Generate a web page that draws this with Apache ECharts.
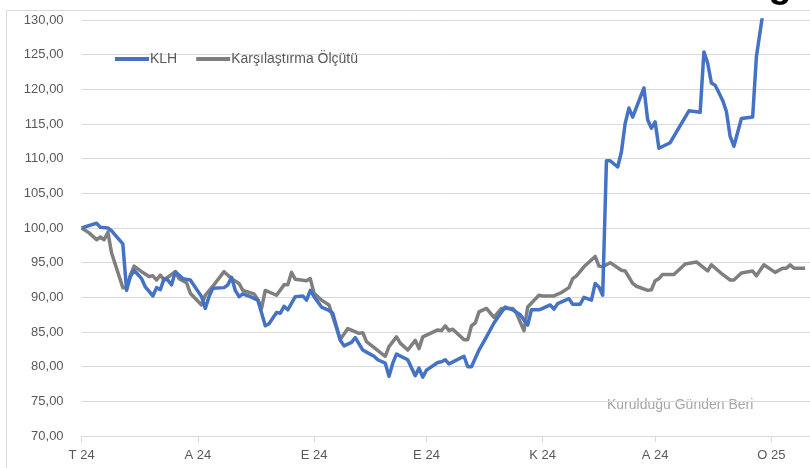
<!DOCTYPE html>
<html>
<head>
<meta charset="utf-8">
<script src="https://cdn.jsdelivr.net/npm/echarts@6.0.0/dist/echarts.min.js"></script>
<style>
  html, body { margin: 0; padding: 0; background: #fff; }
  #chart { width: 810px; height: 468px; }
</style>
</head>
<body>
<div id="chart"></div>
<script>
// days counted from 1 Jul 2024
const tickDays = [0, 31, 62, 92, 123, 153, 184]
const tickLabels = ['T 24', 'A 24', 'E 24', 'E 24', 'K 24', 'A 24', 'O 25']

const klhDays = [0, 4, 5, 7, 8, 11, 12, 13, 14, 16, 17, 19, 20, 21, 22, 23, 24, 25, 27, 29,
  32, 33, 34, 35, 38, 39, 40, 41, 42, 43, 45, 47, 49, 50, 52, 53, 54, 55, 57, 59,
  60, 61, 62, 64, 66, 67, 69, 70, 72, 73, 75, 76, 78, 79, 81, 82, 83, 84, 87, 89,
  90, 91, 92, 95, 96, 97, 98, 102, 103, 104, 106, 108, 110, 111, 113, 115, 117, 119, 120, 122,
  123, 125, 126, 127, 130, 131, 133, 134, 136, 137, 138, 139, 140, 141, 143, 144, 145, 146, 147, 150,
  151, 152, 153, 154, 157, 162, 165, 166, 167, 168, 169, 170, 171, 172, 173, 174, 176, 179, 180, 182]
const klhValues = [100.0, 100.7, 100.1, 100.0, 99.6, 97.7, 91.0, 93.0, 93.9, 92.7, 91.5, 90.2, 91.4, 91.1, 92.7, 92.5, 91.8, 93.7, 92.7, 92.5,
  90.1, 88.4, 90.1, 91.3, 91.4, 91.8, 92.9, 91.0, 90.1, 90.5, 90.1, 89.6, 85.9, 86.2, 87.8, 87.7, 88.7, 88.2, 90.1, 90.2,
  89.6, 91.0, 90.1, 88.6, 88.1, 87.7, 83.8, 83.0, 83.5, 84.2, 82.4, 82.1, 81.5, 81.0, 80.5, 78.6, 80.5, 81.8, 81.0, 78.7,
  79.8, 78.5, 79.5, 80.6, 80.7, 81.0, 80.4, 81.5, 80.0, 80.0, 82.4, 84.3, 86.3, 87.1, 88.6, 88.2, 87.5, 86.0, 88.2, 88.2,
  88.4, 88.9, 88.3, 89.1, 89.8, 89.0, 89.0, 90.0, 89.6, 92.0, 91.5, 90.3, 109.7, 109.7, 108.8, 111.0, 115.1, 117.3, 116.0, 120.2,
  115.6, 114.4, 115.3, 111.5, 112.3, 116.9, 116.7, 125.4, 123.8, 120.9, 120.6, 119.5, 118.4, 116.8, 113.2, 111.8, 115.8, 116.0, 124.7, 132.0]

const benchDays = [0, 2, 4, 5, 6, 7, 8, 11, 12, 13, 14, 16, 18, 19, 20, 21, 22, 25, 26, 28,
  29, 32, 33, 35, 38, 40, 42, 43, 46, 47, 48, 49, 52, 54, 55, 56, 57, 60, 61, 62,
  64, 66, 69, 71, 74, 75, 76, 81, 82, 84, 85, 87, 89, 90, 91, 93, 95, 96, 97, 98,
  99, 102, 103, 104, 105, 106, 108, 110, 112, 115, 116, 118, 119, 122, 123, 126, 128, 130, 131, 132,
  134, 137, 138, 139, 141, 144, 145, 147, 148, 151, 152, 153, 154, 155, 158, 159, 161, 164, 167, 168,
  171, 173, 174, 176, 179, 180, 182, 185, 187, 188, 189, 190, 193]
const benchValues = [100.0, 99.3, 98.3, 98.7, 98.3, 99.4, 96.4, 91.4, 91.4, 93.2, 94.5, 93.7, 93.0, 93.1, 92.5, 93.2, 92.5, 93.7, 92.7, 92.1,
  90.6, 88.9, 90.3, 91.6, 93.7, 92.7, 92.0, 91.0, 90.5, 89.7, 88.4, 91.0, 90.3, 91.8, 91.8, 93.6, 92.6, 92.4, 92.7, 90.6,
  89.6, 88.9, 83.9, 85.5, 84.8, 84.9, 83.6, 81.5, 82.9, 84.3, 83.4, 82.4, 83.8, 82.6, 84.3, 84.8, 85.3, 85.2, 85.9, 85.2,
  85.4, 83.9, 83.9, 85.9, 86.3, 87.9, 88.4, 87.1, 88.4, 88.4, 87.7, 85.2, 88.6, 90.3, 90.2, 90.2, 90.7, 91.4, 92.7, 93.1,
  94.4, 95.9, 94.5, 94.4, 95.0, 93.9, 93.8, 92.0, 91.6, 91.0, 91.1, 92.4, 92.7, 93.3, 93.3, 93.8, 94.8, 95.1, 93.8, 94.7,
  93.3, 92.5, 92.5, 93.5, 93.8, 93.1, 94.7, 93.6, 94.2, 94.2, 94.7, 94.2, 94.2]

const seriesNames = ['KLH', 'Karşılaştırma Ölçütü']
const seriesColors = ['#4472c4', '#7f7f7f']
const note = 'Kurulduğu Günden Beri'

const zip = (xs, ys) => xs.map((x, i) => [x, ys[i]])

const font = '"Liberation Sans", Arial, sans-serif'
const chart = echarts.init(document.getElementById('chart'))

chart.setOption({
  animation: false,
  textStyle: { fontFamily: font },
  grid: { left: 81.6, right: 0, top: 20, bottom: 32, containLabel: false },
  legend: {
    left: 110,
    top: 47,
    icon: 'rect',
    itemWidth: 34,
    itemHeight: 4,
    itemGap: 19,
    textStyle: { color: '#595959', fontSize: 14, fontFamily: font, padding: [0, 0, 0, -4] },
    data: seriesNames
  },
  xAxis: {
    type: 'value',
    min: 0,
    max: 194.3,
    splitLine: { show: false },
    axisLine: { show: true, lineStyle: { color: '#d9d9d9', width: 1 } },
    axisTick: { show: true, length: 6, customValues: tickDays, lineStyle: { color: '#d9d9d9' } },
    axisLabel: {
      customValues: tickDays,
      margin: 13,
      color: '#595959',
      fontSize: 13,
      formatter: v => tickLabels[tickDays.indexOf(v)]
    }
  },
  yAxis: {
    type: 'value',
    min: 70,
    max: 130,
    interval: 5,
    axisLine: { show: false },
    axisTick: { show: false },
    splitLine: { lineStyle: { color: '#d9d9d9', width: 1 } },
    axisLabel: {
      margin: 18,
      color: '#595959',
      fontSize: 13,
      formatter: v => v.toFixed(2).replace('.', ',')
    }
  },
  graphic: [
    {
      type: 'rect',
      shape: { x: 6.5, y: 10.5, width: 900, height: 600 },
      style: { fill: 'none', stroke: '#d9d9d9', lineWidth: 1 },
      silent: true
    },
    {
      type: 'text',
      left: 607,
      top: 398,
      style: { text: note, fill: '#a6a6a6', fontSize: 14, fontFamily: font }
    },
    {
      type: 'text',
      x: 780,
      y: 6,
      style: { text: 'g', fill: '#000', fontSize: 38, fontWeight: 'bold', fontFamily: font, align: 'center', verticalAlign: 'bottom' }
    }
  ],
  series: [
    {
      name: seriesNames[0],
      type: 'line',
      data: zip(klhDays, klhValues),
      showSymbol: false,
      clip: true,
      color: seriesColors[0],
      lineStyle: { width: 3.5, join: 'round' },
      z: 3
    },
    {
      name: seriesNames[1],
      type: 'line',
      data: zip(benchDays, benchValues),
      showSymbol: false,
      clip: true,
      color: seriesColors[1],
      lineStyle: { width: 3.5, join: 'round' },
      z: 2
    }
  ]
})
</script>
</body>
</html>
